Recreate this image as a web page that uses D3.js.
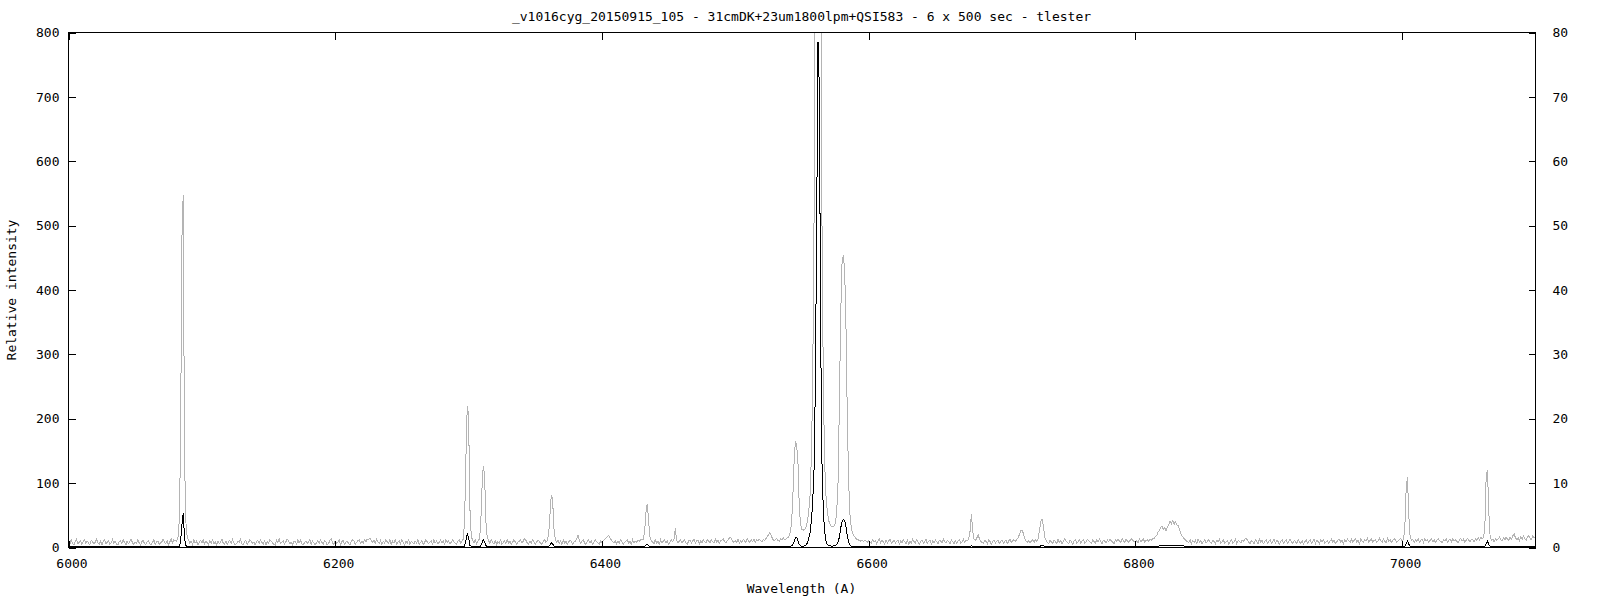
<!DOCTYPE html>
<html><head><meta charset="utf-8">
<script src="https://cdn.jsdelivr.net/npm/d3@7"></script>
<style>
body{margin:0;background:#fff}
text{font-family:"DejaVu Sans Mono",monospace;font-size:13px;fill:#000}
</style>
</head><body>
<svg id="c" width="1600" height="600"></svg>
<script>
const title = "_v1016cyg_20150915_105 - 31cmDK+23um1800lpm+QSI583 - 6 x 500 sec - tlester";
const xLabel = "Wavelength (A)";
const yLabel = "Relative intensity";
const xDomain = [6000, 7100];
const yDomain = [0, 800];
const y2Domain = [0, 80];
const xTicks = [6000, 6200, 6400, 6600, 6800, 7000];
const yTicks = [0, 100, 200, 300, 400, 500, 600, 700, 800];
const y2Ticks = [0, 10, 20, 30, 40, 50, 60, 70, 80];

// gray spectrum (right axis), one sample per Angstrom starting at 6000
const grayStart = 6000, grayStep = 1;
const grayIntensity = [
1.0,0.5,1.2,0.7,0.4,0.9,1.3,0.6,0.8,1.1, 0.5,0.9,1.2,0.6,1.0,0.7,0.4,1.1,0.9,0.6,
0.8,1.3,0.7,0.5,1.0,0.4,0.9,1.2,0.6,0.8, 1.1,0.5,0.7,1.2,0.6,1.0,0.5,0.4,0.9,1.1,
0.6,1.2,0.8,0.4,1.0,0.6,0.9,1.3,0.7,0.5, 0.8,0.6,1.2,0.7,0.4,0.9,1.1,0.6,0.5,0.9,
1.1,0.6,0.4,0.8,1.2,0.5,0.9,1.0,0.5,0.7, 0.9,1.3,0.8,0.6,1.0,0.4,0.9,1.3,0.7,1.2,
1.1,1.0,1.3,4,15,47.7,54.7,14,4,1.6, 1.2,0.6,1.0,0.5,1.2,0.7,1.0,0.4,0.8,1.1,
0.7,1.2,0.5,0.9,0.8,0.4,1.1,0.7,1.2,0.6, 0.9,0.4,1.0,0.6,0.8,1.3,0.7,0.5,1.0,0.5,
0.9,1.1,0.6,1.2,0.7,0.4,0.6,1.0,0.8,1.3, 0.6,0.4,0.9,1.1,0.5,0.8,1.2,1.0,0.6,0.8,
0.4,0.9,1.1,0.6,1.2,0.8,0.5,1.0,0.4,0.9, 0.6,1.2,1.0,0.7,0.5,0.4,1.1,0.8,1.3,0.6,
0.8,1.1,0.5,0.9,1.3,1.0,0.6,0.8,0.4,1.0, 0.9,0.5,1.2,0.7,1.1,0.6,0.4,0.8,1.0,0.6,
0.9,1.2,0.5,1.0,0.7,0.4,0.8,1.1,0.6,1.2, 0.8,0.5,1.0,0.9,0.4,0.6,1.1,1.3,0.7,0.5,
1.0,0.6,0.8,1.2,0.4,0.9,1.1,0.5,0.8,1.0, 0.6,0.4,0.9,1.2,1.0,0.5,0.8,1.1,1.2,0.7,
1.0,0.6,1.2,0.9,1.3,1.2,1.5,1.1,0.8,1.1, 0.7,1.3,0.9,0.6,1.1,0.5,1.0,0.7,1.2,0.9,
0.7,1.2,0.5,1.0,0.7,1.2,0.5,0.8,1.0,0.6, 1.2,0.8,0.4,1.0,0.7,1.2,0.5,1.0,0.8,0.6,
1.0,0.7,1.2,0.5,0.8,1.1,0.4,0.8,1.2,0.9, 0.6,0.8,1.0,0.5,1.2,0.7,1.0,0.6,0.8,1.2,
0.7,1.0,0.5,1.2,0.8,1.0,0.6,0.8,1.2,0.9, 0.7,0.5,1.0,1.2,0.7,1.0,1.3,4,14,22.0,
20.5,6,1.8,1.1,0.7,1.2,0.6,1.0,1.3,3, 9,12.7,11.2,4,1.5,1.1,0.6,1.2,0.8,0.6,
1.1,0.5,0.9,0.7,1.2,0.5,0.8,1.0,0.6,1.2, 0.7,1.0,0.5,0.8,1.2,0.9,0.5,0.8,1.0,1.2,
0.7,1.0,1.4,1.1,0.7,0.5,1.0,0.7,1.2,0.9, 0.5,0.8,1.2,0.9,0.7,0.5,1.0,1.2,0.8,1.1,
2.0,5,8.2,7.4,3,1.3,0.8,1.1,0.6,1.0, 0.5,1.2,0.7,1.0,0.5,0.8,1.2,0.9,0.5,0.8,
1.0,1.3,1.9,1.1,0.7,1.0,1.2,0.7,0.5,1.0, 1.2,0.7,1.0,0.5,0.8,1.2,0.9,0.7,0.5,1.0,
0.7,1.1,1.2,1.5,1.7,1.9,1.5,1.2,0.9,0.7, 1.1,0.5,1.0,0.7,1.2,0.9,0.5,0.8,1.0,1.2,
0.7,1.0,0.5,1.2,0.7,1.0,0.8,1.2,0.9,1.2, 1.3,1.2,2.5,5.5,6.8,4,1.6,1.1,0.8,0.6,
1.2,0.7,1.0,0.5,1.2,0.7,1.0,1.2,0.7,1.0, 0.5,0.8,1.2,0.9,1.3,3.0,1.1,0.7,1.0,1.2,
0.7,1.0,1.2,0.7,0.5,1.0,1.2,0.7,1.0,1.3, 0.7,1.0,1.2,0.5,1.0,0.7,1.2,0.9,0.7,1.2,
1.0,0.7,1.2,0.9,0.7,1.3,0.9,1.1,0.7,1.0, 1.2,1.3,0.9,0.7,1.1,1.3,1.6,1.4,1.0,0.8,
1.1,0.8,1.3,0.7,1.1,0.8,1.3,1.0,0.8,1.4, 1.0,0.8,1.2,0.9,1.3,0.8,1.2,1.0,1.3,1.1,
0.9,1.3,1.1,1.4,1.7,2.0,2.3,1.8,1.3,1.1, 1.2,1.4,1.1,1.0,1.4,1.2,1.5,1.2,1.3,1.5,
1.6,2.2,3.5,7,13,16.5,16,13,6,3.5, 2.8,2.7,2.8,3.2,4,5.5,8,14,25,50,
90,140,160,130,90,50,25,13,8,5.5, 4.2,3.6,3.3,3.2,3.3,3.8,5.5,10,22,36,
44,45.5,43,34,20,10,5,3,2.2,1.8, 1.5,1.3,1.2,1.1,1.0,1.2,0.9,1.1,1.0,0.8,
1.1,0.8,0.7,1.2,0.9,1.1,0.6,1.0,1.3,0.7, 1.1,0.9,0.5,1.2,0.7,1.0,1.3,0.7,0.9,1.1,
0.7,1.0,1.2,0.5,1.0,0.7,1.2,0.9,0.6,1.1, 0.5,1.0,0.7,1.3,0.9,0.7,1.2,0.9,0.5,1.0,
1.2,0.7,0.9,1.3,0.6,1.0,1.2,0.5,1.0,0.7, 1.2,0.9,0.6,1.1,1.0,0.7,1.3,0.9,0.7,1.1,
0.9,0.6,1.2,0.9,0.5,1.1,0.7,1.0,1.2,0.7, 0.9,1.3,0.8,1.1,1.1,1.3,2.5,5.2,2.6,1.3,
1.1,1.4,2.0,1.4,1.0,0.8,0.6,1.1,0.9,0.6, 1.2,0.9,0.5,1.0,1.2,0.7,1.0,1.2,0.6,0.9,
1.2,0.7,0.9,1.2,0.6,1.0,1.3,0.8,1.1,1.2, 1.0,1.2,1.5,2.0,2.6,2.7,2.2,1.4,1.0,0.8,
1.1,0.7,1.0,1.2,0.8,1.2,1.0,1.3,2.6,4.0, 4.4,3.4,1.6,1.1,0.8,0.6,1.1,0.9,0.6,1.2,
0.9,0.6,1.3,0.8,1.1,0.6,1.0,1.4,1.0,0.8, 0.6,1.2,0.9,0.5,1.0,1.2,0.7,0.9,1.2,0.7,
1.0,1.2,0.7,0.9,1.3,1.1,0.8,0.6,1.2,0.9, 0.7,1.2,0.9,1.3,0.9,0.6,1.1,1.0,0.7,1.2,
0.9,1.3,1.0,0.8,0.6,1.2,0.9,1.3,1.0,0.8, 1.4,1.0,0.8,1.3,1.0,0.8,1.1,1.4,1.1,0.9,
0.8,1.1,0.7,1.3,0.9,1.1,1.3,0.8,1.1,1.2, 1.0,1.3,1.1,1.4,1.4,1.7,1.9,2.4,2.7,3.1,
3.3,2.8,3.1,2.6,3.2,3.6,4.1,3.7,4.2,3.6, 4.0,3.5,3.4,2.8,2.2,1.8,1.5,1.3,1.1,0.9,
0.8,1.2,0.6,1.1,0.8,1.1,0.6,1.3,0.8,1.1, 0.6,0.9,1.2,0.7,0.9,1.3,0.8,0.6,1.1,0.9,
0.6,1.1,0.9,1.3,0.7,0.9,1.2,0.6,0.9,1.1, 0.5,0.9,1.2,0.7,0.9,1.3,0.6,1.1,0.9,0.7,
1.1,0.9,1.3,1.5,1.1,0.8,0.6,1.1,0.9,0.6, 1.2,0.9,0.6,1.3,0.8,1.1,0.6,0.9,1.2,0.7,
0.9,1.2,0.6,0.9,1.3,0.7,1.1,0.9,0.5,1.0, 1.2,0.7,0.9,1.2,0.6,0.9,1.3,0.9,0.6,1.1,
0.9,0.6,1.2,0.9,0.6,1.1,0.5,0.9,1.2,0.7, 0.9,1.2,0.7,0.9,1.3,0.6,1.1,0.9,0.6,1.2,
0.9,1.2,0.7,0.9,1.1,0.6,1.0,1.3,0.8,1.1, 0.6,0.9,1.2,1.3,0.8,1.1,0.6,1.2,0.9,1.3,
1.0,0.8,1.3,0.8,1.1,1.4,0.8,1.1,0.6,1.3, 1.0,0.8,1.2,1.0,1.4,0.8,1.1,1.3,0.8,1.1,
1.2,0.8,1.0,1.4,1.0,0.8,1.3,1.0,0.7,1.4, 1.0,1.2,0.8,1.1,1.4,1.2,0.8,1.0,1.2,1.4,
1.0,1.3,3,9,11,5,1.6,1.1,1.3,0.8, 1.2,0.9,1.4,0.8,1.1,1.3,0.8,1.4,1.0,1.2,
0.8,1.1,1.4,0.9,1.2,0.8,1.1,1.4,1.1,0.9, 0.8,1.2,1.0,1.4,0.8,1.1,1.3,0.9,1.4,1.0,
1.2,0.9,0.8,1.2,1.4,1.0,1.3,0.8,1.1,1.4, 1.1,0.9,1.3,1.2,0.9,1.4,1.1,1.5,1.2,1.6,
1.3,1.6,3,11,12,5.5,1.6,1.1,1.3,0.9, 1.4,1.1,1.3,1.6,1.2,1.0,1.5,1.2,1.6,1.3,
1.1,1.6,1.3,1.8,2.1,1.5,1.2,1.5,1.1,1.7, 1.3,1.8,1.4,1.1,1.6,1.9,1.4,1.2,1.8,1.5,
1.6
];

// black spectrum (left axis)
const blackWavelength = [
6000,6040,6080,6082,6083,6084,6085,6086,6087,6088,6089,6090,6150,6200,6250,
6296,6297,6298,6299,6300,6301,6302,6308,6309,6310,6311,6312,6313,6314,
6360,6361,6362,6363,6364,6365,6432,6433,6434,6435,6436,6500,
6540,6541,6542,6543,6544,6545,6546,6547,6548,6549,6550,6551,6552,6553,6554,
6555,6556,6557,6558,6559,6560,6561,6562,6563,6564,6565,6566,6567,6568,6569,
6570,6571,6572,6573,6574,6575,6576,6577,6578,6579,6580,6581,6582,6583,6584,
6585,6586,6587,6588,6590,6676,6677,6678,6728,6729,6730,6731,6732,
6812,6818,6826,6832,6838,6842,6950,7002,7003,7004,7005,7006,7007,
7062,7063,7064,7065,7066,7067,7100
];
const blackIntensity = [
1.5,1.4,1.5,1.6,2,8,35,53.4,15,3,1.6,1.5,1.4,1.5,1.4,
1.6,2,11,21,16,3.5,1.6,1.5,2,7,12,9,3,1.5,
2,4,7.5,5.5,2.2,1.5,2,4,5,3,1.5,1.6,
1.8,2,2.5,3.5,9,15,16,10,4.5,2.5,2,2,3,4,7,
13,23,40,70,120,250,500,785,713,330,130,55,25,10,4.5,
3,2.5,2.3,2.3,2.5,3,4.5,8,16,30,40,44,42,32,18,
8,4,2.2,1.8,1.6,1.6,3,1.6,1.6,2.5,3.2,2.5,1.5,
1.6,2.4,3.2,3,2,1.5,1.5,1.6,6,10,5,2,1.5,
2,6,10,4,1.8,1.5,1.6
];

const L = 68, R = 1535, T = 32, B = 548;
const svg = d3.select("#c");
const x = d3.scaleLinear().domain(xDomain).range([L + 0.5, R + 0.5]);
const y = d3.scaleLinear().domain(yDomain).range([B - 0.5, T + 0.5]);
const y2 = d3.scaleLinear().domain(y2Domain).range([B - 0.5, T + 0.5]);

svg.append("defs").append("clipPath").attr("id", "plot")
  .append("rect").attr("x", L).attr("y", T).attr("width", R - L + 1).attr("height", B - T);

const grayLine = d3.line()
  .x((d, i) => x(grayStart + i * grayStep))
  .y(d => y2(d));
const blackLine = d3.line()
  .x(d => x(d[0]))
  .y(d => y(d[1]));

const plotG = svg.append("g").attr("clip-path", "url(#plot)");
plotG.append("path").datum(grayIntensity)
  .attr("d", grayLine).attr("fill", "none").attr("stroke", "#b4b4b4")
  .attr("stroke-width", 1).attr("shape-rendering", "crispEdges");
plotG.append("path").datum(blackWavelength.map((w, i) => [w, blackIntensity[i]]))
  .attr("d", blackLine).attr("fill", "none").attr("stroke", "#000")
  .attr("stroke-width", 1).attr("shape-rendering", "crispEdges");

function styleAxis(g) {
  g.select(".domain").remove();
  g.selectAll("line").attr("stroke", "#000").attr("shape-rendering", "crispEdges");
  g.selectAll("text").attr("fill", "#000").style("font-family", "DejaVu Sans Mono, monospace").style("font-size", "13px");
}
const fmt = d3.format("d");

svg.append("g").attr("transform", `translate(${L + 0.5},0)`)
  .call(d3.axisLeft(y).tickValues(yTicks).tickFormat(fmt).tickSize(-7).tickPadding(9))
  .call(styleAxis);
svg.append("g").attr("transform", `translate(${R + 0.5},0)`)
  .call(d3.axisRight(y2).tickValues(y2Ticks).tickFormat(fmt).tickSize(-7).tickPadding(17))
  .call(styleAxis);
svg.append("g").attr("transform", `translate(0,${B - 0.5})`)
  .call(d3.axisBottom(x).tickValues(xTicks).tickFormat(fmt).tickSize(-7).tickPadding(11))
  .call(styleAxis)
  .selectAll("text").attr("dx", 3);
svg.append("g").attr("transform", `translate(0,${T + 0.5})`)
  .call(d3.axisTop(x).tickValues(xTicks).tickSize(-7).tickFormat(""))
  .call(styleAxis);

svg.append("rect").attr("x", L + 0.5).attr("y", T + 0.5)
  .attr("width", R - L).attr("height", B - T - 1)
  .attr("fill", "none").attr("stroke", "#000").attr("shape-rendering", "crispEdges");

svg.append("text").attr("x", (L + R) / 2).attr("y", 21)
  .attr("text-anchor", "middle").text(title);
svg.append("text").attr("x", (L + R) / 2).attr("y", 593)
  .attr("text-anchor", "middle").text(xLabel);
svg.append("text").attr("transform", `translate(16,${(T + B) / 2}) rotate(-90)`)
  .attr("text-anchor", "middle").text(yLabel);
</script>
</body></html>
